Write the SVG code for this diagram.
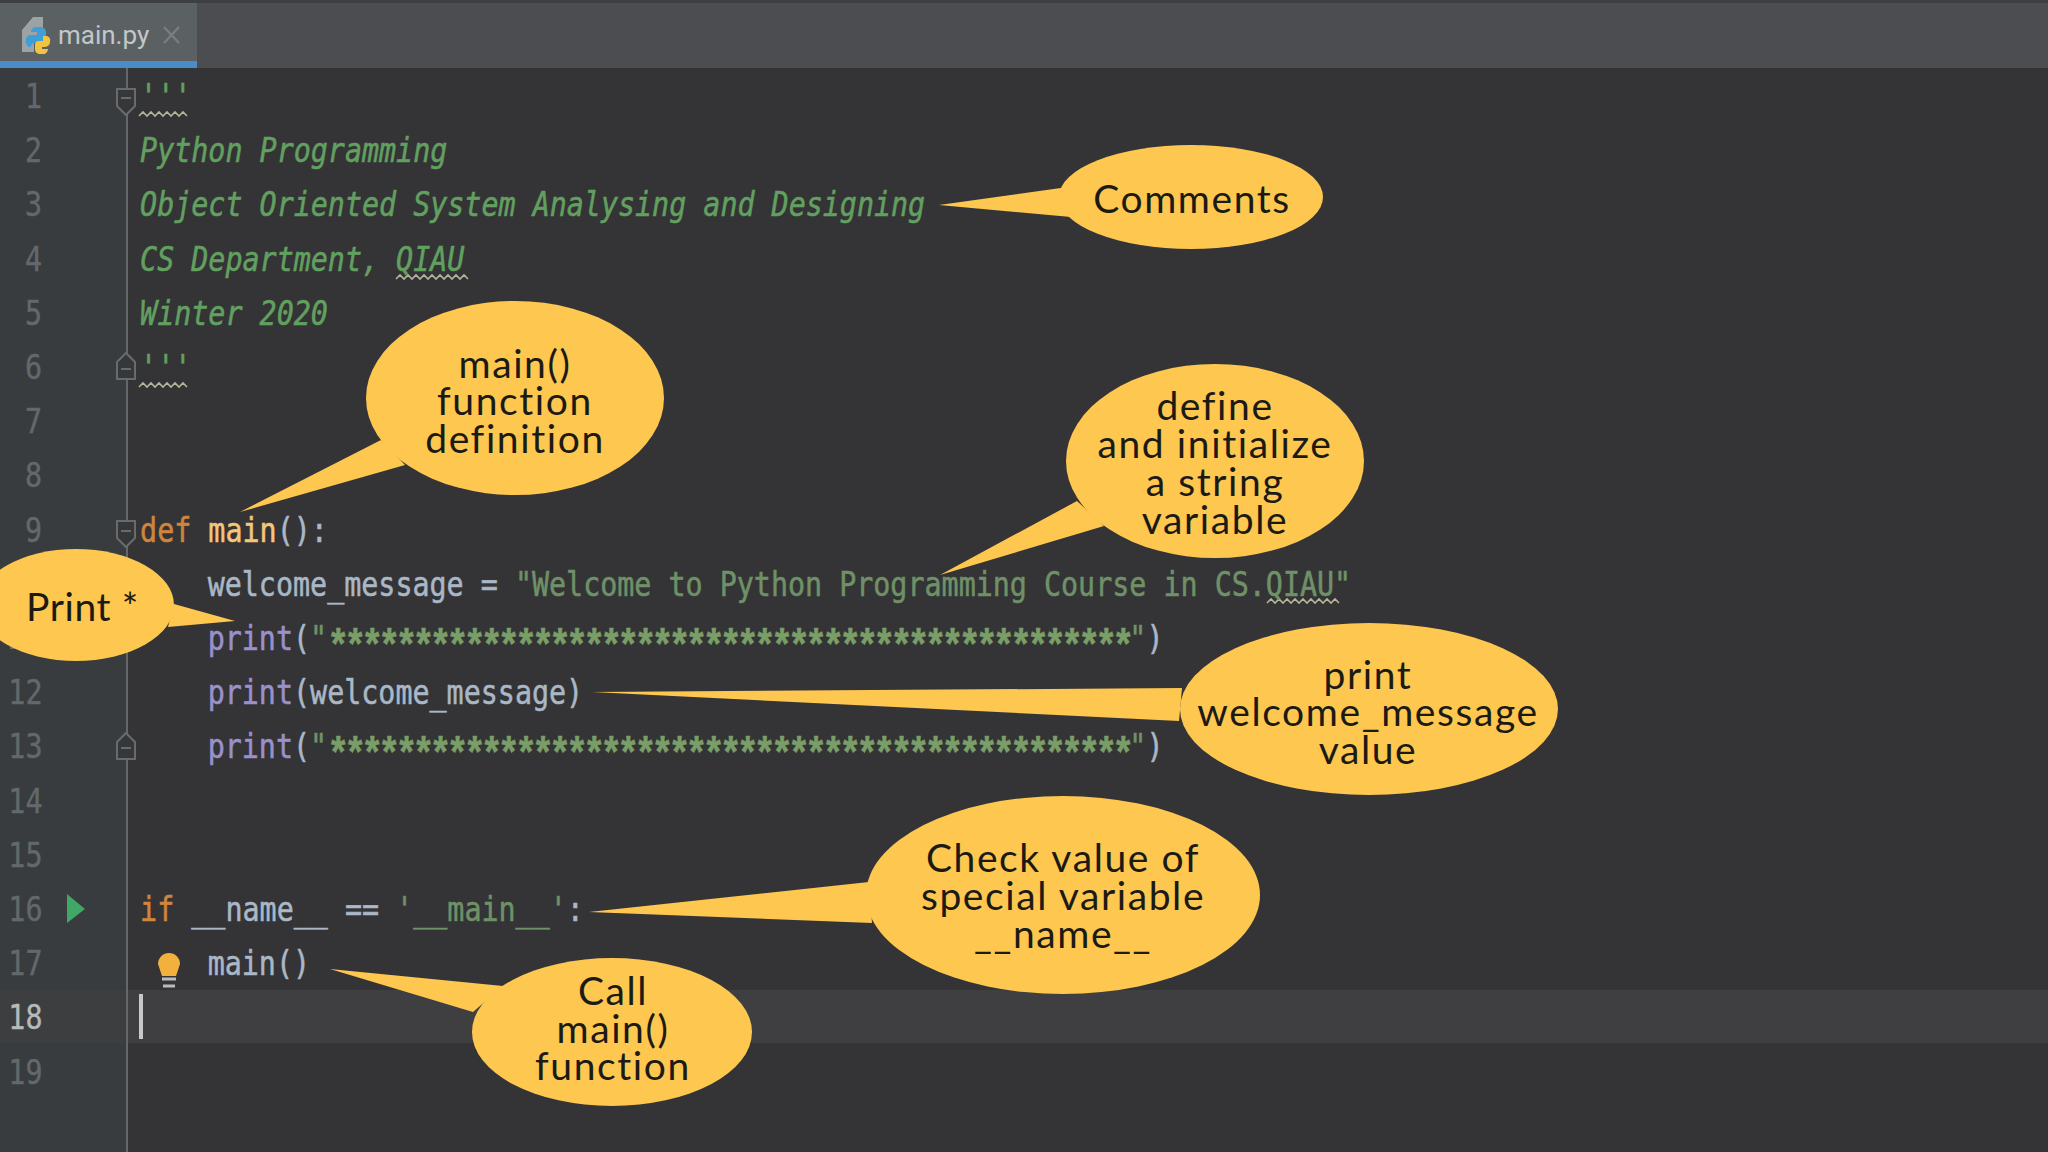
<svg xmlns="http://www.w3.org/2000/svg" width="2048" height="1152" viewBox="0 0 2048 1152">
<style>
.code{font-family:"DejaVu Sans Mono","Liberation Mono",monospace;font-size:34px;fill:#a9b7c6;stroke:#a9b7c6;stroke-width:.55}
.num{font-family:"DejaVu Sans Mono","Liberation Mono",monospace;font-size:34px;fill:#62686b;stroke:#62686b;stroke-width:.4}
.cm{fill:#62a060;stroke:#62a060;font-style:italic}
.st{fill:#6f9167;stroke:#6f9167}
.star{font-family:"Liberation Mono",monospace;font-size:44px;letter-spacing:-5.93px;font-weight:700;fill:#7a9e68;stroke:#7a9e68}
.kw{fill:#d0853c;stroke:#d0853c}
.fn{fill:#f5c67a;stroke:#f5c67a}
.bi{fill:#9a90cc;stroke:#9a90cc}
.call{font-family:Lato,"Open Sans",sans-serif;font-size:39px;letter-spacing:1.6px;fill:#1c1a14;text-anchor:middle}
.bub{fill:#fdc750}
.fold{fill:#363739;stroke:#686b6d;stroke-width:2}
.sq{fill:none;stroke:#b5b59a;stroke-width:1.6}
</style>
<rect width="2048" height="1152" fill="#343436"/>
<rect y="68" width="126" height="1084" fill="#393c3e"/>
<rect y="990" x="126" width="1922" height="53" fill="#3f3f41"/>
<rect y="990" width="126" height="53" fill="#3c3e40"/>
<rect width="2048" height="68" fill="#4b4d51"/>
<rect width="2048" height="3" fill="#3d3f42"/>
<rect y="3" width="197" height="58" fill="#5b6163"/>
<rect y="61" width="197" height="7" fill="#4a8cc8"/>
<rect x="126" y="68" width="2" height="1084" fill="#63676a"/>

<g id="tab">
<path d="M22 52V30L33 17H43V40H34V52Z" fill="#9da3a5"/>
<path d="M29 47a7 7 0 0 1 0-12h8v-3h-6a5 5 0 0 1 5-5h5a5 5 0 0 1 5 5v7a4 4 0 0 1-4 4h-7a4 4 0 0 0-4 4Z" fill="#3f9ed6"/>
<path d="M43 36h4a5 5 0 0 1 3 6 5 5 0 0 1-5 5h-3v2h6a5 5 0 0 1-6 5h-3a5 5 0 0 1-4-5v-4a4 4 0 0 1 4-4h4Z" fill="#f2c33c"/>
<text x="58" y="44" style="font-family:Roboto,'Noto Sans',sans-serif;font-size:26px;fill:#c3c7c9">main.py</text>
<path d="M164 27L179 43M179 27L164 43" stroke="#7a7e81" stroke-width="2.4" fill="none"/>
</g>

<g id="gutter-icons">
<path class="fold" d="M117 89H135V106L126 115L117 106Z"/><path d="M121 98H131" stroke="#686b6d" stroke-width="2"/>
<path class="fold" d="M117 379H135V362L126 353L117 362Z"/><path d="M121 369H131" stroke="#686b6d" stroke-width="2"/>
<path class="fold" d="M117 521H135V538L126 547L117 538Z"/><path d="M121 531H131" stroke="#686b6d" stroke-width="2"/>
<path class="fold" d="M117 759H135V742L126 733L117 742Z"/><path d="M121 748H131" stroke="#686b6d" stroke-width="2"/>
<polygon points="67,894 85,909 67,923" fill="#3fa866"/>
<path d="M162 976L158 964a11 11 0 1 1 22 0L176 976Z" fill="#f2b03c"/>
<path d="M162 979H176M163 986H175" stroke="#b9bbbd" stroke-width="3"/>
<rect x="139" y="994" width="4" height="45" fill="#c8c8c8"/>
<path class="sq" d="M139 116l4-4 4 4 4-4 4 4 4-4 4 4 4-4 4 4 4-4 4 4 4-4 4 4"/>
<path class="sq" d="M139 387l4-4 4 4 4-4 4 4 4-4 4 4 4-4 4 4 4-4 4 4 4-4 4 4"/>
<path class="sq" d="M396 279l4-4 4 4 4-4 4 4 4-4 4 4 4-4 4 4 4-4 4 4 4-4 4 4 4-4 4 4 4-4 4 4 4-4 4 4"/>
<path class="sq" d="M1267 603l4-4 4 4 4-4 4 4 4-4 4 4 4-4 4 4 4-4 4 4 4-4 4 4 4-4 4 4 4-4 4 4 4-4 4 4"/>
</g>

<g transform="scale(.834 1)">
<g id="line-numbers">
<text class="num" x="30" y="108">1</text>
<text class="num" x="30" y="162">2</text>
<text class="num" x="30" y="216">3</text>
<text class="num" x="30" y="271">4</text>
<text class="num" x="30" y="325">5</text>
<text class="num" x="30" y="379">6</text>
<text class="num" x="30" y="433">7</text>
<text class="num" x="30" y="487">8</text>
<text class="num" x="30" y="542">9</text>
<text class="num" x="10" y="704">12</text>
<text class="num" x="10" y="758">13</text>
<text class="num" x="10" y="813">14</text>
<text class="num" x="10" y="867">15</text>
<text class="num" x="10" y="921">16</text>
<text class="num" x="10" y="975">17</text>
<text class="num" x="10" y="1029" style="fill:#b7b9ba;stroke:#b7b9ba">18</text>
<text class="num" x="10" y="1084">19</text>
</g>
<g id="code">
<text class="code" x="168" y="108"><tspan class="cm">'''</tspan></text>
<text class="code cm" x="168" y="162">Python Programming</text>
<text class="code cm" x="168" y="216">Object Oriented System Analysing and Designing</text>
<text class="code cm" x="168" y="271">CS Department, QIAU</text>
<text class="code cm" x="168" y="325">Winter 2020</text>
<text class="code" x="168" y="379"><tspan class="cm">'''</tspan></text>
<text class="code" x="168" y="542"><tspan class="kw">def</tspan> <tspan class="fn">main</tspan>():</text>
<text class="code" x="249" y="596">welcome_message = <tspan class="st">"Welcome to Python Programming Course in CS.QIAU"</tspan></text>
<text class="code" x="249" y="650"><tspan class="bi">print</tspan>(<tspan class="st">"</tspan><tspan class="star" dy="10">***********************************************</tspan><tspan class="st" dy="-10">"</tspan>)</text>
<text class="code" x="249" y="704"><tspan class="bi">print</tspan>(welcome_message)</text>
<text class="code" x="249" y="758"><tspan class="bi">print</tspan>(<tspan class="st">"</tspan><tspan class="star" dy="10">***********************************************</tspan><tspan class="st" dy="-10">"</tspan>)</text>
<text class="code" x="168" y="921"><tspan class="kw">if</tspan> __name__ == <tspan class="st">'__main__'</tspan>:</text>
<text class="code" x="249" y="975">main()</text>
</g>
</g>

<g id="connectors">
<polygon class="bub" points="1068,187 939,205 1071,217"/>
<polygon class="bub" points="381,440 240,512 405,465"/>
<polygon class="bub" points="1077,501 940,575 1104,526"/>
<polygon class="bub" points="174,604 235,621 168,627"/>
<polygon class="bub" points="1182,688 592,692 1179,721"/>
<polygon class="bub" points="869,882 589,912 872,923"/>
<polygon class="bub" points="503,986 330,969 473,1012"/>
</g>

<rect x="10" y="645" width="12" height="4" fill="#62686b"/>
<g id="node-comments"><ellipse class="bub" cx="1191" cy="197" rx="132" ry="52"/><text class="call" x="1192" y="213">Comments</text></g>
<g id="node-main-def"><ellipse class="bub" cx="515" cy="398" rx="149" ry="97"/>
<text class="call" x="515" y="378">main()</text><text class="call" x="515" y="415">function</text><text class="call" x="515" y="453">definition</text></g>
<g id="node-define"><ellipse class="bub" cx="1215" cy="461" rx="149" ry="97"/>
<text class="call" x="1215" y="420">define</text><text class="call" x="1215" y="458">and initialize</text><text class="call" x="1215" y="496">a string</text><text class="call" x="1215" y="534">variable</text></g>
<g id="node-print-star"><ellipse class="bub" cx="76" cy="605" rx="98" ry="56"/><text class="call" x="26" y="621" style="text-anchor:start;letter-spacing:.6px">Print *</text></g>
<g id="node-print-welcome"><ellipse class="bub" cx="1369" cy="709" rx="189" ry="86"/>
<text class="call" x="1368" y="689">print</text><text class="call" x="1368" y="726">welcome_message</text><text class="call" x="1368" y="764">value</text></g>
<g id="node-check"><ellipse class="bub" cx="1063" cy="895" rx="197" ry="99"/>
<text class="call" x="1063" y="872">Check value of</text><text class="call" x="1063" y="910">special variable</text><text class="call" x="1063" y="948">__name__</text></g>
<g id="node-call"><ellipse class="bub" cx="612" cy="1032" rx="140" ry="74"/>
<text class="call" x="613" y="1005">Call</text><text class="call" x="613" y="1043">main()</text><text class="call" x="613" y="1080">function</text></g>
</svg>
